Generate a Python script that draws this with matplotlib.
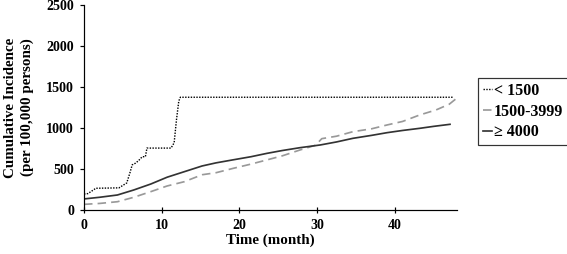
import matplotlib
matplotlib.use("Agg")
import matplotlib.pyplot as plt

plt.rcParams['font.family'] = ['Liberation Serif', 'DejaVu Serif']
plt.rcParams['font.weight'] = 'bold'

# values
low_x = [0, 0.5, 1.3, 1.5, 4.5, 5.0, 5.5, 5.9, 6.2, 6.6, 7.0, 7.5, 7.9, 8.1, 11.2, 11.6, 11.9, 12.2, 12.4, 47.5]
low_y = [195, 200, 250, 265, 270, 300, 330, 450, 550, 570, 600, 650, 650, 755, 755, 820, 1100, 1330, 1375, 1375]

mid_x = [0, 2, 4.3, 6.4, 8.6, 10.7, 12.9, 15.2, 17, 19.2, 21.5, 23.5, 25.5, 27.8, 29.8, 30.6, 32.5, 34.6, 37, 39, 41, 43.2, 45.3, 47, 48]
mid_y = [69, 80, 101, 155, 224, 293, 345, 430, 455, 508, 560, 610, 660, 732, 790, 870, 900, 955, 990, 1037, 1080, 1159, 1220, 1290, 1366]

high_x = [0, 2, 4.3, 6.4, 8.6, 10.7, 12.9, 15.2, 17, 19.2, 21.5, 23.5, 25.5, 27.8, 30.4, 32.5, 34.6, 37, 39, 41, 43.2, 45, 47.1]
high_y = [135, 155, 183, 244, 317, 400, 467, 537, 575, 612, 650, 690, 725, 760, 793, 830, 874, 910, 943, 970, 996, 1020, 1045]

labels = ['< 1500', '1500-3999', '\u2265 4000']
x_ticks = [0, 10, 20, 30, 40]
y_ticks = [0, 500, 1000, 1500, 2000, 2500]

fig = plt.figure(figsize=(567 / 72, 254 / 72), dpi=72)
ax = fig.add_axes([84 / 567, 44 / 254, 373 / 567, 205 / 254])

ax.plot(low_x, low_y, color='black', linestyle=(0, (1, 1)), linewidth=1.4, label=labels[0])
ax.plot(mid_x, mid_y, color='#999999', linestyle=(0, (5, 3)), linewidth=1.7, label=labels[1])
ax.plot(high_x, high_y, color='#333333', linestyle='-', linewidth=1.7, label=labels[2])

ax.set_xlim(0, 48)
ax.set_ylim(0, 2500)
ax.set_xticks(x_ticks)
ax.set_yticks(y_ticks)
ax.spines['top'].set_visible(False)
ax.spines['right'].set_visible(False)
ax.spines['left'].set_linewidth(1.2)
ax.spines['bottom'].set_linewidth(1.2)
ax.tick_params(axis='y', direction='out', length=4, width=1.2, labelsize=14, pad=6)
ax.tick_params(axis='x', direction='inout', length=6, width=1.2, labelsize=14, pad=6)

ax.set_xlabel('Time (month)', fontsize=15, fontweight='bold', labelpad=2)
ax.set_ylabel('Cumulative Incidence\n(per 100,000 persons)', fontsize=15,
              fontweight='bold', linespacing=1.3)
ax.yaxis.set_label_coords(-50 / 373, 0.5)

leg = ax.legend(loc='upper left', bbox_to_anchor=(478 / 567, 176 / 254),
                bbox_transform=fig.transFigure, fancybox=False,
                edgecolor='black', handlelength=0.6, handletextpad=0.1,
                borderpad=0.3, labelspacing=0.3, borderaxespad=0,
                prop={'size': 16, 'weight': 'bold'})
leg.get_frame().set_linewidth(1.2)

fig.savefig('out.png', dpi=72)
